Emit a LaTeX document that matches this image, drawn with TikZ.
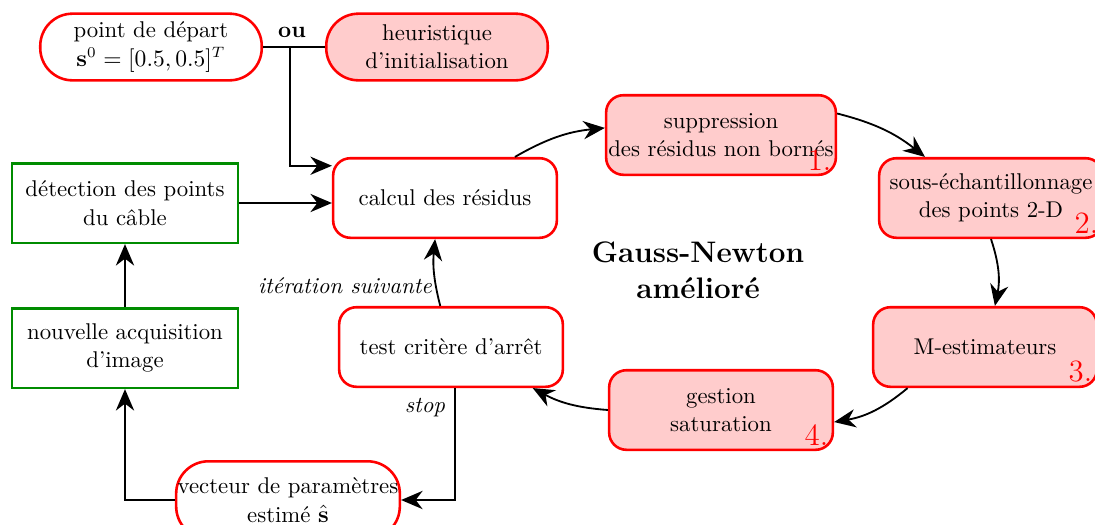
\documentclass[tikz,border=0pt]{standalone}
\usetikzlibrary{arrows.meta}
\begin{document}
\begin{tikzpicture}[x=0.465pt,y=-0.465pt,
  every node/.style={font=\fontsize{10.6}{13.2}\selectfont},
  redbox/.style={draw=red,line width=1.2pt,rounded corners=8pt,minimum width=104pt,minimum height=37pt,align=center,inner sep=1pt,fill=white},
  redfill/.style={redbox,fill=red!20},
  greenbox/.style={draw=green!55!black,line width=1.2pt,minimum width=105pt,minimum height=37pt,align=center,inner sep=1pt},
  pill/.style={draw=red,line width=1.2pt,rounded corners=15pt,minimum width=103pt,minimum height=31pt,align=center,inner sep=0pt},
  arr/.style={-{Stealth[length=10pt,width=8.5pt]},line width=0.85pt},
  num/.style={text=red,font=\fontsize{14.4}{16}\selectfont,inner sep=1.5pt,anchor=south east},
  lab/.style={font=\fontsize{10.6}{13}\selectfont\itshape,inner sep=1pt}]
\useasboundingbox (0,0) rectangle (1095,524);
% nodes
\node[pill] (start) at (151,47) {point de départ\\$\mathbf{s}^0=[0.5,0.5]^T$};
\node[pill,fill=red!20] (heur) at (437,47) {heuristique\\d'initialisation};
\coordinate (j) at (290,47);
\node[font=\fontsize{10.6}{13}\selectfont\bfseries,anchor=south,inner sep=1pt] (ou) at (292,40) {ou};
\node[redbox] (calc) at (445,198) {calcul des résidus};
\node[greenbox] (det) at (125,203) {détection des points\\du câble};
\node[greenbox] (acq) at (125,348) {nouvelle acquisition\\d'image};
\node[redbox] (test) at (451,347) {test critère d'arrêt};
\node[redfill] (supp) at (721,135) {suppression\\des résidus non bornés};
\node[redfill] (sous) at (991,198) {sous-échantillonnage\\des points 2-D};
\node[redfill] (mest) at (985,347) {M-estimateurs};
\node[redfill] (gest) at (721,410) {gestion\\saturation};
\node[pill,minimum width=104pt,minimum height=36pt] (vect) at (288,500) {vecteur de paramètres\\estimé $\hat{\mathbf{s}}$};
\node[num] (n1) at ([xshift=-1pt,yshift=1pt]supp.south east) {1.};
\node[num] (n2) at ([xshift=-1pt,yshift=1pt]sous.south east) {2.};
\node[num] (n3) at ([xshift=-1pt,yshift=1pt]mest.south east) {3.};
\node[num] (n4) at ([xshift=-1pt,yshift=1pt]gest.south east) {4.};
\node[font=\fontsize{13.8}{16.7}\selectfont\bfseries,align=center] (gn) at (698,270) {Gauss-Newton\\amélioré};
\node[lab] (it) at (345,286) {itération suivante};
\node[lab] (st) at (425,408) {stop};
% connectors
\draw[line width=0.85pt] (start.east) -- (heur.west);
\draw[arr] (j) |- ([yshift=15pt]calc.west);
\draw[arr] (det.east) -- (det.east -| calc.west);
\draw[arr] (acq.north) -- (det.south);
\draw[arr] ([xshift=32.5pt]calc.north) to[bend left=12] ([yshift=3.3pt]supp.west);
\draw[arr] ([yshift=10pt]supp.east) to[bend left=12] ([xshift=-30.7pt]sous.north);
\draw[arr] (sous.south) to[bend left=15] ([xshift=4.6pt]mest.north);
\draw[arr] ([xshift=-36pt]mest.south) to[bend left=15] ([yshift=-5.6pt]gest.east);
\draw[arr] (gest.west) to[bend left=12] ([xshift=38pt]test.south);
\draw[arr] ([xshift=-5pt]test.north) to[bend left=10] ([xshift=-4.6pt]calc.south);
\draw[arr] ([xshift=2pt]test.south) |- (vect.east);
\draw[arr] (vect.west) -| (acq.south);
\end{tikzpicture}
\end{document}
